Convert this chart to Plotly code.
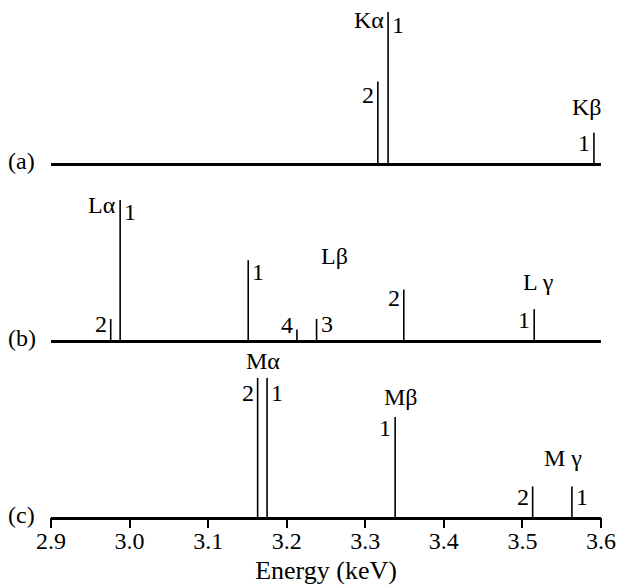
import plotly.graph_objects as go
from plotly.subplots import make_subplots

# (a) K lines
k_names = ["Kα2", "Kα1", "Kβ1"]
k_energy = [3.316, 3.329, 3.591]
k_intensity = [54, 100, 20]

# (b) L lines
l_names = ["Lα2", "Lα1", "Lβ1", "Lβ4", "Lβ3", "Lβ2", "Lγ1"]
l_energy = [2.976, 2.988, 3.151, 3.213, 3.238, 3.349, 3.515]
l_intensity = [15, 100, 57, 7.5, 15, 36, 22]

# (c) M lines
m_names = ["Mα2", "Mα1", "Mβ1", "Mγ2", "Mγ1"]
m_energy = [3.163, 3.175, 3.338, 3.513, 3.563]
m_intensity = [100, 100, 72, 22, 22]

tick_values = [2.9, 3.0, 3.1, 3.2, 3.3, 3.4, 3.5, 3.6]
tick_labels = ["2.9", "3.0", "3.1", "3.2", "3.3", "3.4", "3.5", "3.6"]

FONT = "Liberation Serif"
FS = 24

fig = make_subplots(rows=3, cols=1, shared_xaxes=False)


def sticks(energies, heights):
    xs, ys = [], []
    for e, h in zip(energies, heights):
        xs += [e, e, None]
        ys += [0, h, None]
    return xs, ys


for row, (en, it) in enumerate([(k_energy, k_intensity),
                                (l_energy, l_intensity),
                                (m_energy, m_intensity)], start=1):
    xs, ys = sticks(en, it)
    fig.add_trace(go.Scatter(x=xs, y=ys, mode="lines",
                             line=dict(color="black", width=1.6),
                             hoverinfo="skip", showlegend=False,
                             cliponaxis=False),
                  row=row, col=1)

# panel geometry (paper fractions) and y-ranges
domains = [[0.6847, 1.0], [0.3424, 0.6518], [0.0, 0.3327]]
yranges = [[0, 108], [0, 114.3], [0, 123.7]]

for i in range(3):
    ax = "" if i == 0 else str(i + 1)
    fig.layout["yaxis" + ax].update(domain=domains[i], range=yranges[i],
                                    visible=False, fixedrange=True)
    fig.layout["xaxis" + ax].update(
        range=[2.9, 3.6], showline=True, linecolor="black", linewidth=2.6,
        showgrid=False, zeroline=False, ticks="", showticklabels=False)

# bottom axis: labels and title
fig.update_xaxes(row=3, col=1, showticklabels=True,
                 tickvals=tick_values, ticktext=tick_labels,
                 ticklabelstandoff=0,
                 tickfont=dict(family=FONT, size=FS, color="black"),
                 title=dict(text="Energy (keV)",
                            font=dict(family=FONT, size=26, color="black"),
                            standoff=9))

# tick marks hanging below the bottom axis
fig.update_layout(xaxis4=dict(overlaying="x3", anchor="y3", side="bottom",
                              range=[2.9, 3.6], tickvals=tick_values,
                              ticks="outside", ticklen=10, tickwidth=2,
                              tickcolor="black", showticklabels=False,
                              showgrid=False, zeroline=False, showline=False))
fig.add_trace(go.Scatter(x=[2.9], y=[0], xaxis="x4", yaxis="y3",
                         mode="markers", marker=dict(opacity=0),
                         hoverinfo="skip", showlegend=False))

ann = []


def label(text, x, y, panel, anchor="center", shift=0):
    ax = "" if panel == 0 else str(panel + 1)
    ann.append(dict(text=text, x=x, y=y, xref="x" + ax, yref="y" + ax,
                    xanchor=anchor, yanchor="middle", xshift=shift,
                    showarrow=False,
                    font=dict(family=FONT, size=FS, color="black")))


# (a)
label("Kα", k_energy[1], 94.7, 0, "right", -2)
label("1", k_energy[1], 91.4, 0, "left", 2)
label("2", k_energy[0], 45, 0, "right", -2)
label("Kβ", k_energy[2], 37, 0, "center", -7)
label("1", k_energy[2], 13.2, 0, "right", -2)

# (b)
label("Lα", l_energy[1], 96.4, 1, "right", -2)
label("1", l_energy[1], 91.4, 1, "left", 2)
label("2", l_energy[0], 11.4, 1, "right", -2)
label("1", l_energy[2], 48.6, 1, "left", 2)
label("Lβ", 3.261, 60, 1)
label("4", l_energy[3], 10.7, 1, "right", -2)
label("3", l_energy[4], 11.4, 1, "left", 2)
label("2", l_energy[5], 30, 1, "right", -2)
label("L γ", 3.521, 41.4, 1)
label("1", l_energy[6], 14.3, 1, "right", -2)

# (c)
label("Mα", 3.170, 112, 2)
label("2", m_energy[0], 89, 2, "right", -2)
label("1", m_energy[1], 89, 2, "left", 2)
label("Mβ", 3.346, 86.3, 2)
label("1", m_energy[2], 64, 2, "right", -2)
label("M γ", 3.5515, 42.4, 2)
label("2", m_energy[3], 14.4, 2, "right", -2)
label("1", m_energy[4], 14.4, 2, "left", 2)

# panel tags
for tag, yb in zip(["(a)", "(b)", "(c)"], [0.6847, 0.3424, 0.0]):
    ann.append(dict(text=tag, x=-0.053, y=yb + 0.004, xref="paper",
                    yref="paper", xanchor="center", yanchor="middle",
                    showarrow=False,
                    font=dict(family=FONT, size=FS, color="black")))

fig.update_layout(annotations=ann, width=617, height=588,
                  margin=dict(l=51, r=16, t=0, b=71),
                  paper_bgcolor="white", plot_bgcolor="white",
                  showlegend=False)

fig.write_html("out.html")
